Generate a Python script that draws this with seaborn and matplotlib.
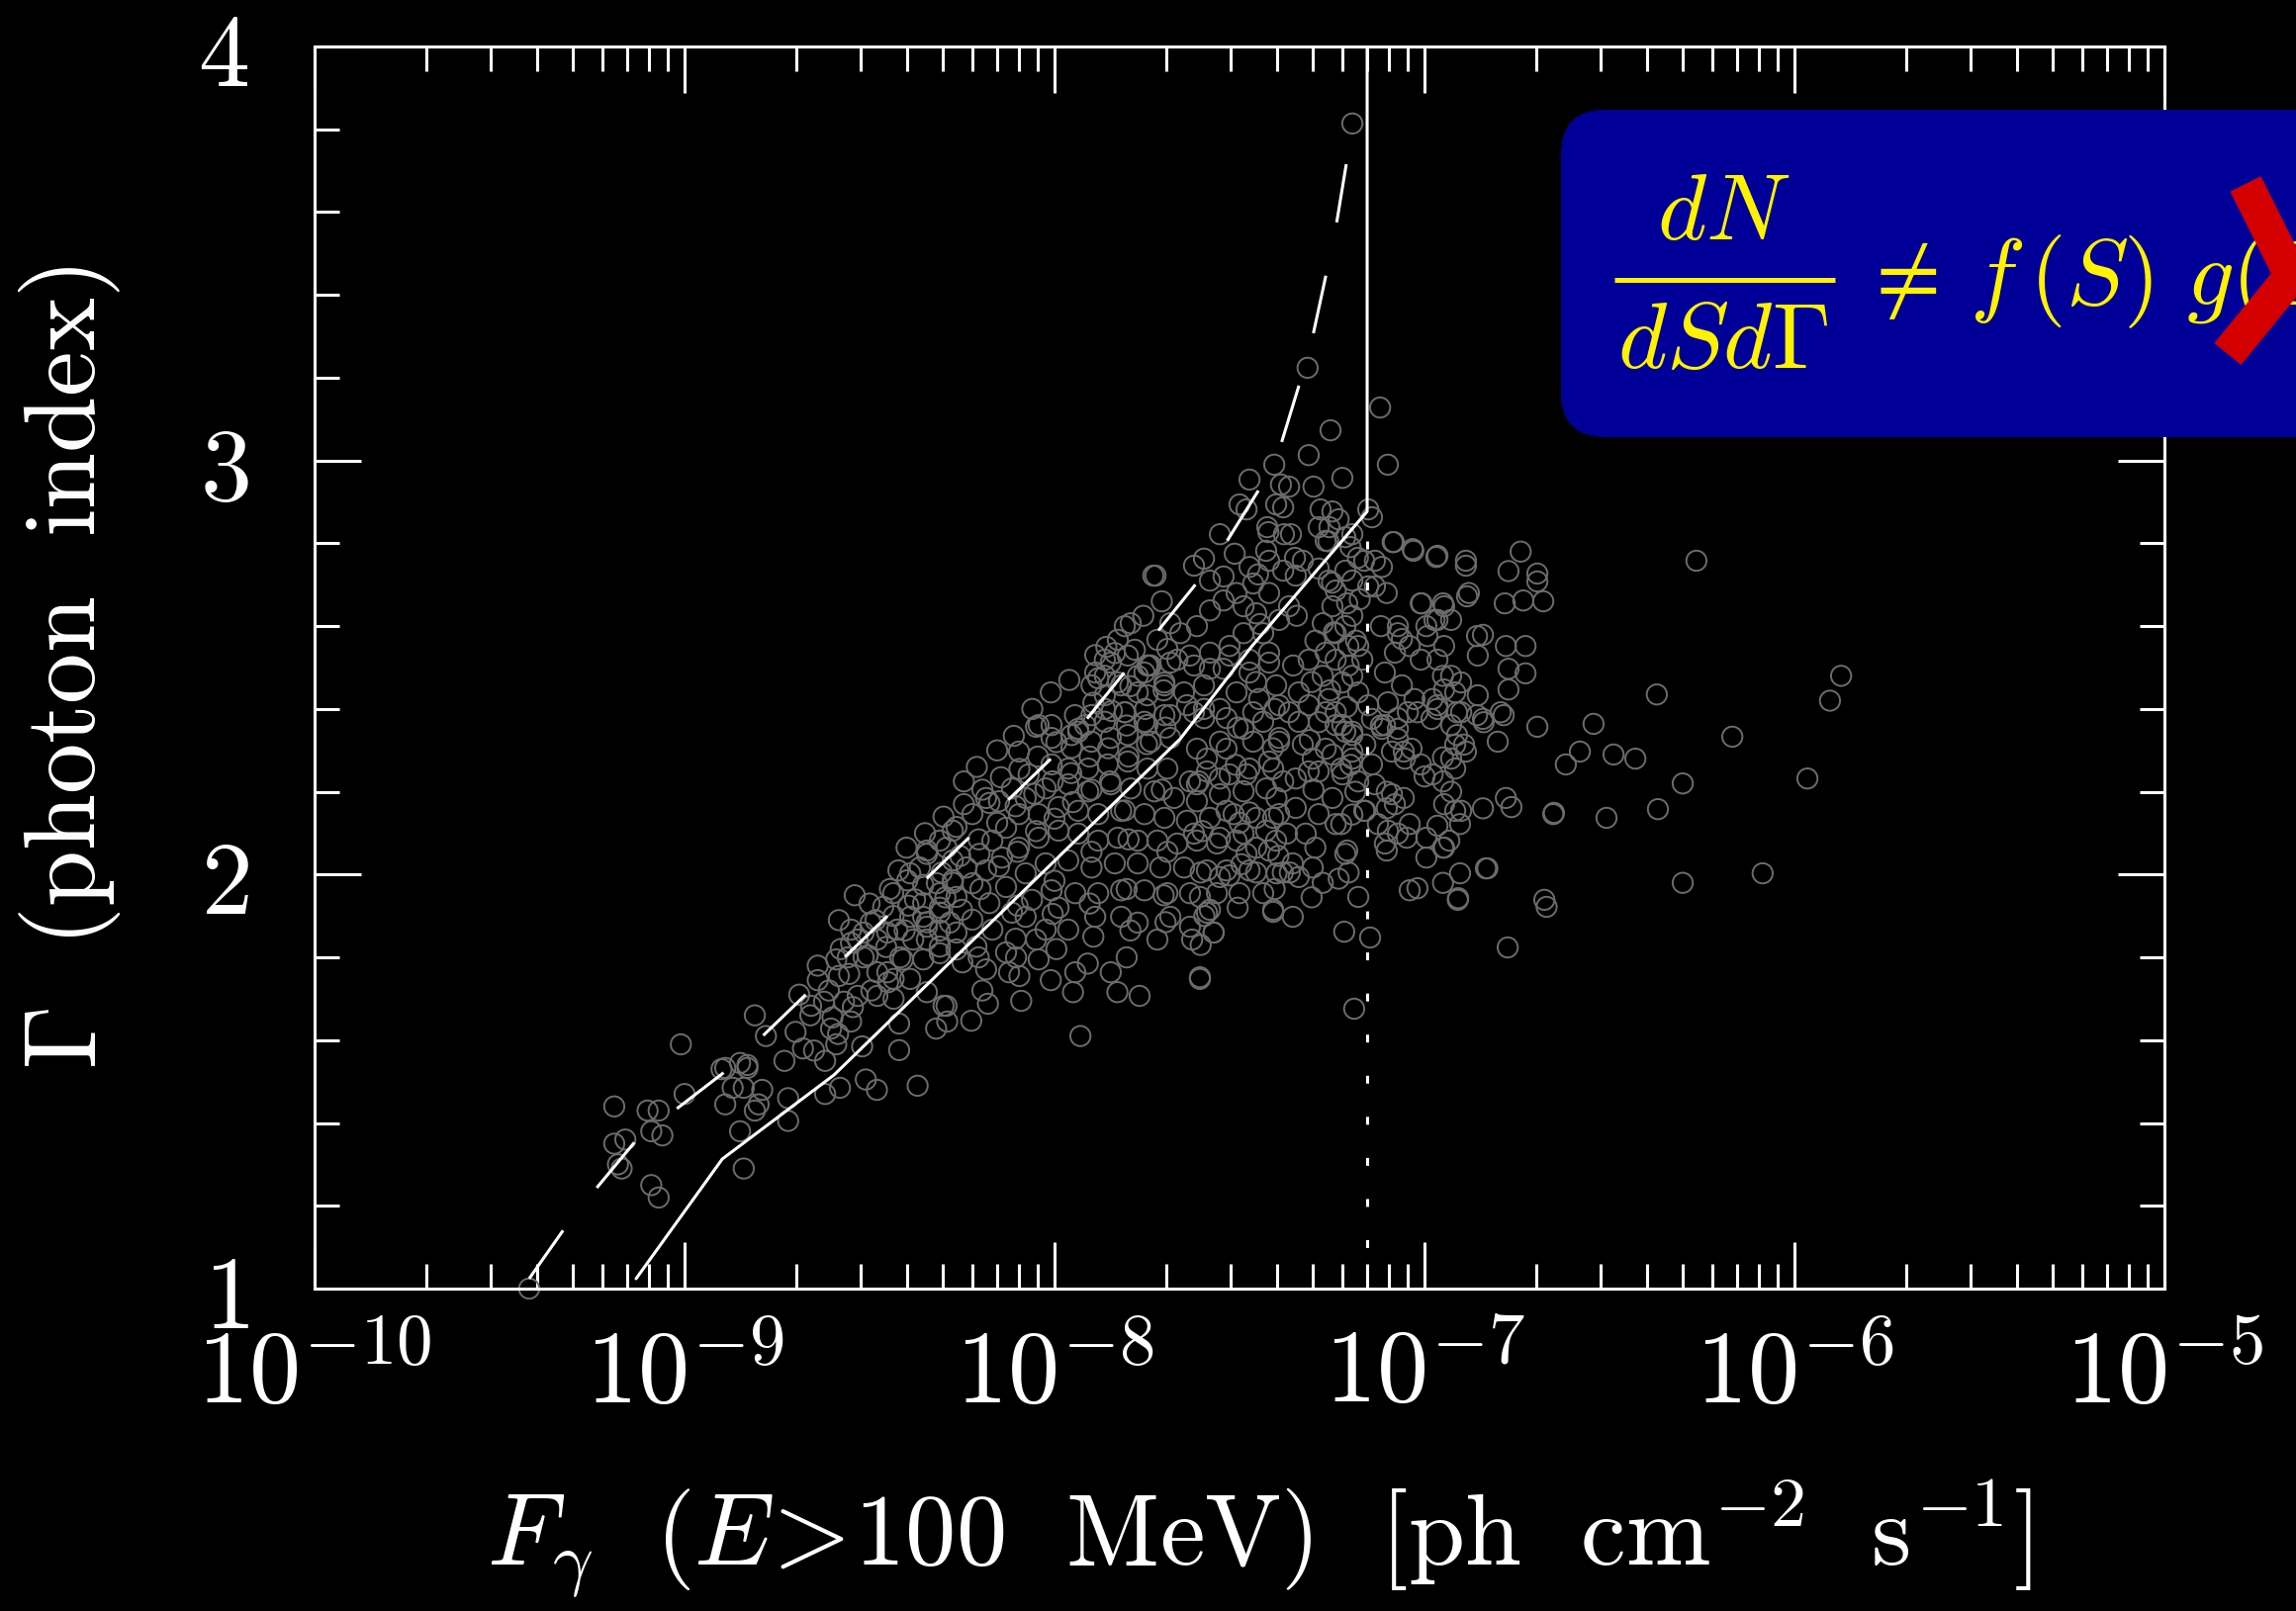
import numpy as np
import pandas as pd
import seaborn as sns
import matplotlib
matplotlib.use("Agg")
import matplotlib.pyplot as plt
from matplotlib.patches import FancyBboxPatch
from matplotlib.lines import Line2D
from matplotlib.transforms import IdentityTransform
from matplotlib.ticker import FuncFormatter, MultipleLocator, LogLocator, NullFormatter, FixedLocator

# ---------------- data: (log10 flux, photon index) ----------------
tail = [
    (-9.42, 1.00), (-9.19, 1.44), (-9.10, 1.43), (-9.07, 1.43), (-9.09, 1.38), (-9.06, 1.37),
    (-9.19, 1.35), (-9.16, 1.36), (-9.18, 1.30), (-9.17, 1.29), (-9.09, 1.25), (-9.07, 1.22),
    (-9.01, 1.59), (-9.00, 1.47), (-8.89, 1.445), (-8.90, 1.53), (-8.85, 1.545), (-8.83, 1.54),
    (-8.84, 1.485), (-8.79, 1.48), (-8.81, 1.43), (-8.85, 1.38), (-8.84, 1.29), (-8.81, 1.66),
    (-8.87, 1.485), (-8.80, 1.445), (-8.83, 1.533), (-8.89, 1.533),
]
lower = [
    (-8.78, 1.61), (-8.73, 1.55), (-8.72, 1.405), (-8.72, 1.46), (-8.68, 1.58), (-8.62, 1.55),
    (-8.585, 1.615), (-8.55, 1.645), (-8.59, 1.59), (-8.58, 1.485), (-8.62, 1.47), (-8.52, 1.585),
    (-8.51, 1.505), (-8.48, 1.48), (-8.42, 1.576), (-8.42, 1.64), (-8.37, 1.49), (-8.32, 1.628),
    (-8.29, 1.645), (-8.30, 1.683), (-8.225, 1.647), (-8.18, 1.688), (-8.09, 1.695), (-7.93, 1.61),
    (-7.95, 1.716), (-7.83, 1.716), (-7.77, 1.707), (-7.19, 1.676),
    (-8.64, 1.78), (-8.583, 1.89), (-8.583, 1.755), (-8.55, 1.867), (-8.516, 1.86), (-8.484, 1.89),
    (-8.452, 1.86), (-8.435, 1.90), (-8.422, 2.01), (-8.345, 2.05), (-8.292, 2.065), (-8.377, 1.94),
    (-8.345, 1.843), (-8.31, 1.81), (-8.292, 1.683), (-8.604, 1.628), (-8.569, 1.693), (-8.532, 1.707),
    (-8.479, 1.707), (-8.435, 1.70), (-8.479, 1.764), (-8.435, 1.748), (-8.39, 1.748), (-8.345, 1.716),
    (-8.516, 1.80), (-8.578, 1.82), (-8.623, 1.693), (-8.658, 1.683), (-8.275, 1.98), (-8.31, 1.92),
    (-8.39, 2.003), (-8.318, 1.979), (-8.275, 2.034), (-8.355, 1.898), (-8.283, 1.884), (-8.265, 1.819),
]
core_edge = [
    (-8.275, 2.106), (-8.176, 2.173), (-8.096, 2.297), (-8.05, 2.357), (-7.936, 2.352), (-7.89, 2.53),
    (-7.864, 2.48), (-7.837, 2.535), (-7.757, 2.488),
    (-8.123, 1.764), (-7.944, 1.764), (-7.848, 1.764), (-7.607, 1.748), (-7.963, 1.867), (-7.89, 1.898),
    (-7.82, 1.898), (-7.775, 1.884), (-7.722, 1.843), (-7.687, 1.898), (-7.634, 1.874), (-7.57, 1.86),
    (-7.58, 1.915), (-7.535, 2.01), (-7.473, 2.01), (-7.409, 1.915), (-7.40, 2.003), (-8.078, 1.898),
    (-8.05, 1.843), (-8.024, 1.867), (-7.989, 1.92), (-8.104, 1.80), (-8.043, 1.795),
]
core_upper = [
    (-7.89, 2.488), (-7.848, 2.512), (-7.802, 2.529), (-7.775, 2.48), (-7.74, 2.505), (-7.703, 2.464),
    (-7.90, 2.457), (-7.864, 2.433), (-7.82, 2.457), (-7.749, 2.433), (-7.687, 2.512), (-7.634, 2.529),
    (-7.58, 2.497), (-7.527, 2.529), (-7.473, 2.488), (-7.42, 2.512), (-7.401, 2.457), (-7.447, 2.424),
    (-7.508, 2.44), (-7.553, 2.40), (-7.596, 2.378), (-7.642, 2.409), (-7.703, 2.385), (-7.757, 2.369),
    (-7.81, 2.392), (-7.864, 2.369), (-7.90, 2.385), (-7.936, 2.345), (-8.043, 2.361), (-8.008, 2.33),
    (-7.954, 2.306), (-7.90, 2.321), (-7.848, 2.33), (-7.802, 2.337), (-7.74, 2.321), (-7.687, 2.33),
]
core_mid = [
    (-7.615, 2.304), (-7.553, 2.321), (-7.489, 2.352), (-7.436, 2.369), (-7.393, 2.321), (-7.42, 2.273),
    (-7.473, 2.256), (-7.527, 2.242), (-7.588, 2.249), (-7.634, 2.225), (-7.695, 2.256), (-7.749, 2.256),
    (-7.802, 2.273), (-7.856, 2.266), (-7.909, 2.256), (-7.963, 2.256), (-8.008, 2.266), (-8.07, 2.242),
    (-8.115, 2.208), (-8.15, 2.177), (-8.185, 2.185), (-8.078, 2.185), (-8.024, 2.208), (-7.963, 2.218),
    (-7.909, 2.201), (-7.848, 2.218), (-7.794, 2.208), (-7.73, 2.201), (-7.677, 2.185), (-7.615, 2.177),
    (-7.553, 2.194), (-7.489, 2.201), (-7.428, 2.208), (-7.382, 2.225),
]
core_lower = [
    (-8.222, 2.146), (-8.265, 2.115), (-8.31, 2.082), (-8.345, 2.058), (-8.364, 2.017), (-8.398, 1.986),
    (-8.436, 1.955), (-8.463, 1.922), (-8.497, 1.884), (-8.532, 1.843), (-8.559, 1.80), (-8.479, 1.843),
    (-8.425, 1.867), (-8.39, 1.898), (-8.355, 1.931), (-8.31, 1.955), (-8.275, 1.986), (-8.238, 2.017),
    (-8.203, 2.05), (-8.168, 2.082), (-8.131, 2.113), (-8.096, 2.146), (-8.043, 2.146), (-7.989, 2.163),
    (-7.936, 2.154), (-7.882, 2.146), (-7.82, 2.154), (-7.757, 2.146), (-7.703, 2.137), (-7.642, 2.13),
    (-7.58, 2.137), (-7.516, 2.146), (-7.455, 2.137), (-7.393, 2.146), (-7.401, 2.082), (-7.455, 2.065),
    (-7.508, 2.082), (-7.561, 2.075), (-7.615, 2.082), (-7.668, 2.075), (-7.722, 2.082), (-7.775, 2.082),
    (-7.829, 2.089), (-7.882, 2.082), (-7.936, 2.099), (-7.989, 2.106), (-8.043, 2.089), (-8.096, 2.065),
    (-8.142, 2.041), (-8.185, 2.01), (-8.222, 1.979), (-8.265, 1.946), (-8.31, 1.908), (-8.345, 1.874),
    (-8.382, 1.843), (-8.417, 1.80), (-8.452, 1.764), (-8.355, 1.795), (-8.31, 1.826), (-8.265, 1.86),
    (-8.222, 1.891), (-8.176, 1.931), (-8.131, 1.97), (-8.078, 2.003), (-8.024, 2.027), (-7.963, 2.034),
    (-7.90, 2.017), (-7.837, 2.027), (-7.775, 2.027), (-7.714, 2.017), (-7.65, 2.017), (-7.588, 2.01),
    (-7.527, 1.998), (-7.436, 1.955), (-7.50, 1.955), (-7.561, 1.955), (-7.634, 1.955), (-7.695, 1.955),
    (-7.757, 1.962), (-7.82, 1.962), (-7.882, 1.955), (-7.944, 1.955), (-8.008, 1.962), (-8.061, 1.939),
    (-8.115, 1.908), (-8.168, 1.867), (-8.211, 1.826), (-8.249, 1.788), (-8.185, 1.771), (-8.131, 1.812),
]
band_fill = [
    (-8.70, 1.62), (-8.69, 1.71), (-8.66, 1.66), (-8.64, 1.745), (-8.65, 1.575), (-8.61, 1.72),
    (-8.60, 1.655), (-8.59, 1.795), (-8.555, 1.76), (-8.545, 1.68), (-8.55, 1.835), (-8.54, 1.95),
    (-8.505, 1.805), (-8.495, 1.72), (-8.50, 1.93), (-8.455, 1.825), (-8.445, 1.965), (-8.45, 1.74),
    (-8.405, 1.865), (-8.395, 1.925), (-8.40, 2.065), (-8.41, 1.795), (-8.355, 1.975), (-8.345, 1.885),
    (-8.35, 2.10), (-8.305, 2.005), (-8.295, 1.945), (-8.30, 2.14), (-8.31, 1.865), (-8.255, 2.045),
    (-8.245, 2.17), (-8.25, 1.915), (-8.245, 2.225), (-8.205, 2.085), (-8.195, 2.205), (-8.20, 1.965),
    (-8.21, 2.26), (-8.155, 2.125), (-8.145, 2.235), (-8.15, 2.02), (-8.155, 2.30), (-8.105, 2.165),
    (-8.095, 2.255), (-8.10, 2.055), (-8.11, 2.335), (-8.055, 2.195), (-8.045, 2.285), (-8.05, 2.105),
    (-8.06, 2.40), (-8.005, 2.225), (-7.995, 2.32), (-8.00, 2.135), (-8.01, 2.44), (-7.955, 2.245),
    (-7.945, 2.385), (-7.95, 2.175), (-7.96, 2.47), (-7.905, 2.285), (-7.895, 2.415), (-7.90, 2.205),
    (-7.855, 2.305), (-7.845, 2.395), (-7.85, 2.225), (-7.86, 2.55), (-7.805, 2.36), (-7.795, 2.455),
    (-7.80, 2.285), (-7.81, 2.60), (-7.755, 2.40), (-7.745, 2.505), (-7.75, 2.315), (-7.76, 2.625),
    (-7.705, 2.445), (-7.695, 2.545), (-7.70, 2.355), (-7.71, 2.66),
]
below_fill = [
    (-8.205, 1.80), (-8.195, 1.72), (-8.105, 1.845), (-8.095, 1.755), (-8.10, 1.925), (-8.005, 1.905),
    (-7.995, 1.82), (-8.00, 1.985), (-8.01, 1.745), (-7.905, 1.93), (-7.895, 1.85), (-7.90, 2.055),
    (-7.91, 1.785), (-7.805, 1.965), (-7.795, 1.865), (-7.80, 2.085), (-7.81, 2.155), (-7.805, 1.80),
    (-7.705, 1.95), (-7.695, 2.055), (-7.70, 1.885), (-7.71, 2.205), (-7.605, 2.005), (-7.595, 1.90),
    (-7.60, 2.105), (-7.61, 2.225), (-7.605, 1.83), (-7.505, 1.92), (-7.495, 2.025), (-7.50, 2.125),
    (-7.51, 2.265), (-7.505, 2.355), (-7.405, 1.965), (-7.395, 2.045), (-7.40, 2.185), (-7.41, 2.305),
    (-7.405, 2.40), (-7.305, 1.945), (-7.295, 2.065), (-7.30, 2.205), (-7.31, 2.325), (-7.305, 2.465),
    (-7.295, 2.565), (-7.205, 2.005), (-7.195, 2.145), (-7.20, 2.265), (-7.21, 2.405), (-7.205, 2.505),
    (-7.195, 2.625),
]
near_limit_fill = [
    (-7.455, 2.465), (-7.445, 2.605), (-7.45, 2.725), (-7.355, 2.505), (-7.345, 2.625), (-7.35, 2.765),
    (-7.255, 2.445), (-7.245, 2.585), (-7.25, 2.705), (-7.26, 2.805), (-7.185, 2.565), (-7.175, 2.665),
    (-7.18, 2.765),
]
bright_core = [
    (-7.58, 2.71), (-7.543, 2.72), (-7.508, 2.68), (-7.463, 2.703), (-7.42, 2.68), (-7.366, 2.648),
    (-7.393, 2.615), (-7.455, 2.631), (-7.489, 2.648), (-7.543, 2.662), (-7.58, 2.638), (-7.615, 2.60),
    (-7.66, 2.583), (-7.687, 2.607), (-7.722, 2.567), (-7.668, 2.519), (-7.623, 2.505), (-7.58, 2.536),
    (-7.527, 2.552), (-7.489, 2.583), (-7.436, 2.583), (-7.42, 2.536), (-7.473, 2.519), (-7.543, 2.497),
    (-7.596, 2.457), (-7.65, 2.44), (-7.703, 2.457), (-7.749, 2.505), (-7.783, 2.543), (-7.829, 2.567),
    (-7.794, 2.607), (-7.864, 2.519), (-7.882, 2.474), (-7.829, 2.464), (-7.775, 2.44), (-7.81, 2.392),
    (-7.864, 2.40), (-7.917, 2.361), (-7.749, 2.361), (-7.687, 2.385), (-7.623, 2.392), (-8.008, 2.361),
    (-7.954, 2.337),
    (-7.249, 2.648), (-7.275, 2.607), (-7.24, 2.583), (-7.214, 2.60), (-7.206, 2.552), (-7.24, 2.519),
    (-7.267, 2.536), (-7.313, 2.519), (-7.275, 2.48), (-7.222, 2.464), (-7.259, 2.424), (-7.313, 2.409),
    (-7.34, 2.44), (-7.366, 2.392), (-7.286, 2.368), (-7.24, 2.361), (-7.195, 2.345),
    (-7.553, 2.822), (-7.422, 2.827), (-7.361, 2.822), (-7.286, 2.839), (-7.267, 2.806), (-7.214, 2.815),
    (-7.20, 2.791), (-7.596, 2.763), (-7.623, 2.746), (-7.727, 2.722), (-7.513, 2.775), (-7.473, 2.743),
    (-7.428, 2.782), (-7.42, 2.758), (-7.382, 2.734), (-7.348, 2.722), (-7.329, 2.758), (-7.286, 2.739),
    (-7.259, 2.71), (-7.24, 2.686), (-7.214, 2.734), (-7.195, 2.71), (-7.50, 2.894), (-7.481, 2.882),
    (-7.401, 2.894), (-7.382, 2.887), (-7.281, 2.882), (-7.249, 2.877), (-7.232, 2.858),
]
right_dense = [
    (-7.596, 2.40), (-7.535, 2.378), (-7.463, 2.392), (-7.393, 2.409), (-7.34, 2.369), (-7.267, 2.392),
    (-7.214, 2.345), (-7.267, 2.304), (-7.329, 2.314), (-7.393, 2.33), (-7.463, 2.321), (-7.535, 2.304),
    (-7.588, 2.28), (-7.615, 2.218), (-7.553, 2.232), (-7.481, 2.242), (-7.409, 2.256), (-7.348, 2.232),
    (-7.286, 2.249), (-7.222, 2.242), (-7.195, 2.28), (-7.24, 2.122), (-7.286, 2.146), (-7.348, 2.161),
    (-7.409, 2.137), (-7.473, 2.15), (-7.535, 2.154), (-7.623, 2.099), (-7.553, 2.089), (-7.489, 2.099),
    (-7.428, 2.106), (-7.372, 2.099), (-7.275, 1.98), (-7.232, 1.99), (-7.34, 1.994), (-7.383, 2.005),
    (-7.455, 2.005), (-7.553, 1.994), (-7.607, 1.946), (-7.588, 1.908), (-7.57, 1.86), (-7.628, 1.843),
    (-7.607, 1.752), (-7.481, 2.05), (-7.42, 2.058), (-7.356, 2.027), (-7.321, 2.099), (-7.302, 2.28),
    (-7.313, 2.249), (-7.249, 2.29), (-7.249, 2.185), (-7.187, 2.20), (-7.16, 2.154), (-7.126, 2.122),
    (-7.107, 2.361), (-7.072, 2.378), (-7.019, 2.392), (-6.981, 2.376), (-6.965, 2.409), (-6.912, 2.392),
    (-6.858, 2.385), (-6.84, 2.368), (-6.786, 2.385), (-7.088, 2.297), (-7.053, 2.28), (-7.035, 2.304),
    (-6.928, 2.28), (-6.893, 2.314), (-6.912, 2.337), (-7.16, 2.314), (-7.195, 2.337), (-7.142, 2.266),
    (-7.24, 2.392), (-7.222, 2.361), (-7.00, 2.237), (-6.928, 2.20), (-6.901, 2.154), (-6.947, 2.17),
    (-6.965, 2.118), (-6.947, 2.065), (-7.048, 2.089), (-7.099, 2.106), (-7.107, 2.075), (-7.08, 2.17),
    (-7.088, 2.194), (-7.214, 2.05), (-7.409, 1.91), (-7.356, 1.898), (-7.179, 1.946), (-7.217, 1.862),
    (-7.147, 1.848),
]
right_sparse = [
    (-6.74, 2.78), (-6.773, 2.733), (-6.695, 2.727), (-6.695, 2.708), (-6.888, 2.758), (-6.965, 2.77),
    (-7.03, 2.782), (-7.083, 2.803), (-6.88, 2.68), (-6.783, 2.655), (-6.733, 2.662), (-6.679, 2.66),
    (-7.01, 2.655), (-6.95, 2.655), (-6.965, 2.615), (-6.995, 2.60), (-6.842, 2.579), (-6.78, 2.552),
    (-6.727, 2.552), (-6.856, 2.529), (-6.727, 2.486), (-6.773, 2.497), (-6.773, 2.447), (-6.95, 2.48),
    (-6.917, 2.44), (-6.978, 2.424), (-6.856, 2.433), (-6.794, 2.392), (-6.842, 2.376), (-6.695, 2.357),
    (-6.802, 2.321), (-6.917, 2.314), (-6.888, 2.297), (-6.95, 2.283), (-6.917, 2.256), (-7.056, 2.297),
    (-7.01, 2.266), (-7.118, 2.36), (-7.072, 2.328), (-7.027, 2.424), (-6.965, 2.40), (-7.01, 2.519),
    (-7.04, 2.552), (-7.118, 2.60), (-7.072, 2.583), (-7.134, 2.696), (-7.102, 2.68), (-7.209, 2.655),
    (-7.163, 2.758), (-7.195, 2.822), (-7.257, 2.839), (-7.38, 2.822), (-7.425, 2.839), (-7.733, 2.722),
    (-6.78, 2.185), (-6.765, 2.163), (-6.917, 2.154), (-6.904, 2.122), (-6.842, 2.16), (-6.95, 2.225),
    (-6.978, 2.242), (-6.995, 2.089), (-6.95, 2.065), (-7.072, 2.099), (-7.04, 2.122), (-7.102, 2.20),
    (-7.134, 2.218), (-7.056, 2.185), (-7.195, 2.297), (-7.225, 2.256), (-7.179, 2.225), (-7.102, 2.16),
    (-7.163, 2.154), (-7.225, 2.122), (-7.209, 2.058), (-7.102, 2.058), (-7.302, 2.017), (-7.364, 2.005),
    (-6.933, 2.082), (-6.904, 2.003), (-6.995, 2.041), (-6.95, 1.98), (-7.04, 1.962), (-6.83, 2.015),
    (-6.91, 1.939), (-7.08, 2.536), (-7.072, 2.60), (-7.061, 2.569), (-7.107, 2.488), (-7.061, 2.457),
    (-7.099, 2.416), (-7.045, 2.392), (-7.072, 2.352), (-7.115, 2.352), (-7.179, 2.552), (-7.168, 2.519),
    (-7.195, 2.48), (-7.179, 2.44), (-7.152, 2.409), (-7.142, 2.376), (-7.008, 2.655), (-6.947, 2.648),
    (-6.973, 2.615), (-6.928, 2.615), (-6.885, 2.672), (-6.858, 2.576), (-6.992, 2.576), (-6.947, 2.552),
    (-6.965, 2.519), (-6.928, 2.48), (-6.901, 2.464), (-6.947, 2.447), (-6.901, 2.392), (-6.928, 2.361),
    (-7.086, 2.803), (-7.032, 2.786), (-6.968, 2.767), (-6.888, 2.746), (-7.134, 2.758), (-7.115, 2.743),
    (-7.152, 2.696),
]
outliers = [
    (-6.265, 2.758), (-5.874, 2.48), (-5.904, 2.42), (-6.372, 2.435), (-6.543, 2.364), (-6.168, 2.333),
    (-6.58, 2.297), (-6.618, 2.266), (-6.489, 2.29), (-6.43, 2.28), (-6.302, 2.22), (-5.965, 2.232),
    (-6.65, 2.149), (-6.508, 2.137), (-6.369, 2.158), (-6.834, 2.015), (-6.302, 1.98), (-6.086, 2.003),
    (-7.019, 1.967), (-6.909, 1.943), (-6.676, 1.939), (-6.67, 1.922), (-6.775, 1.824), (-6.652, 2.146),
]
top_tail = [
    (-7.195, 3.814), (-7.316, 3.224), (-7.12, 3.128), (-7.254, 3.073), (-7.313, 3.013), (-7.222, 2.958),
    (-7.099, 2.99), (-7.30, 2.937), (-7.406, 2.99), (-7.473, 2.954), (-7.388, 2.942), (-7.366, 2.937),
    (-7.152, 2.882), (-7.142, 2.863),
]

# model curves (log10 flux, photon index)
solid_logf = [-9.131, -8.898, -8.596, -7.660, -7.468, -7.155, -7.155]
solid_gamma = [1.024, 1.313, 1.516, 2.328, 2.550, 2.877, 4.0]
dashed_logf = [-9.42, -9.302, -9.128, -8.882, -7.965, -7.567, -7.404, -7.310, -7.243, -7.193]
dashed_gamma = [1.024, 1.174, 1.361, 1.530, 2.318, 2.758, 2.992, 3.267, 3.544, 3.816]
limit_logf = [-7.155, -7.155]
limit_gamma = [1.0, 2.877]

x_ticks_exp = [-10, -9, -8, -7, -6, -5]
y_ticks = [1, 2, 3, 4]

# ---------------- style ----------------
sns.set_theme(style="ticks")
plt.rcParams.update({
    "figure.facecolor": "black", "axes.facecolor": "black", "savefig.facecolor": "black",
    "axes.edgecolor": "white", "text.color": "white", "xtick.color": "white",
    "ytick.color": "white", "axes.labelcolor": "white", "mathtext.fontset": "cm",
    "axes.linewidth": 2.2,
})
plt.rcParams["font.family"] = ["DejaVu Serif"]

W, H = 2321, 1629
fig = plt.figure(figsize=(W / 100, H / 100), dpi=100)
ax = fig.add_axes([318 / W, 1 - 1303 / H, 1870 / W, 1256 / H])
ax.set_xscale("log")

pts = pd.DataFrame(tail + lower + core_edge + core_upper + core_mid + core_lower + band_fill +
                   below_fill + near_limit_fill + bright_core + right_dense + right_sparse +
                   outliers + top_tail, columns=["logf", "gamma"])
pts["flux"] = 10.0 ** pts["logf"]
sns.scatterplot(data=pts, x="flux", y="gamma", ax=ax, s=215, marker="o",
                linewidth=1.4, clip_on=False, legend=False, zorder=2)
coll = ax.collections[-1]
coll.set_facecolor("none")
coll.set_edgecolor("#6c6c6c")
coll.set_linewidth(1.4)

sns.lineplot(x=10.0 ** np.array(solid_logf), y=solid_gamma, sort=False, estimator=None,
             color="white", lw=2.2, ax=ax, zorder=3)
sns.lineplot(x=10.0 ** np.array(dashed_logf), y=dashed_gamma, sort=False, estimator=None,
             color="white", lw=2.2, ax=ax, zorder=3)
ax.lines[-1].set_linestyle((0, (19.5, 18)))
sns.lineplot(x=10.0 ** np.array(limit_logf), y=limit_gamma, sort=False, estimator=None,
             color="white", lw=2.2, ax=ax, zorder=3)
ax.lines[-1].set_linestyle((0, (2.6, 11.0)))

ax.set_xlim(1e-10, 1e-5)
ax.set_ylim(1, 4)
ax.xaxis.set_major_locator(FixedLocator([10.0 ** e for e in x_ticks_exp]))
ax.xaxis.set_minor_locator(LogLocator(base=10, subs=np.arange(2, 10), numticks=100))
ax.xaxis.set_minor_formatter(NullFormatter())
ax.xaxis.set_major_formatter(FuncFormatter(lambda v, p: r"$10^{%d}$" % int(round(np.log10(v)))))
ax.yaxis.set_major_locator(FixedLocator(y_ticks))
ax.yaxis.set_minor_locator(MultipleLocator(0.2))
ax.yaxis.set_major_formatter(FuncFormatter(lambda v, p: r"$%d$" % int(round(v))))
ax.tick_params(which="both", direction="in", top=True, right=True, width=2.2, color="white")
ax.tick_params(which="major", length=34)
ax.tick_params(which="minor", length=18)
ax.tick_params(axis="x", which="major", labelsize=75, pad=26)
ax.tick_params(axis="y", which="major", labelsize=75, pad=48)
for sp in ax.spines.values():
    sp.set_color("white")
    sp.set_linewidth(2.2)
    sp.set_visible(True)

ax.set_xlabel(r"$F_{\gamma}\ \ (E\!>\!100\ \ \mathrm{MeV})\ \ [\mathrm{ph}\ \ \mathrm{cm}^{-2}\ \ \mathrm{s}^{-1}]$",
              fontsize=74, color="white")
ax.xaxis.label.set_verticalalignment("baseline")
ax.xaxis.set_label_coords(0.5107, -0.2229)
ax.set_ylabel(r"$\Gamma\ \ (\mathrm{photon\ \ index})$", fontsize=74, color="white")
ax.yaxis.label.set_verticalalignment("center")
ax.yaxis.set_label_coords(-0.1326, 0.5)

# ---------------- overlay: blue formula box with red cross ----------------
ID = IdentityTransform()
box = FancyBboxPatch((1578, H - 442), 1000, 331, boxstyle="round,pad=0,rounding_size=45",
                     transform=ID, facecolor="#000099", edgecolor="none", zorder=5)
fig.add_artist(box)
yellow = "#FFF200"
fig.text(1742, H - 242, r"$dN$", transform=ID, color=yellow, fontsize=68,
         ha="center", va="baseline", zorder=6)
fig.text(1742, H - 372, r"$dSd\Gamma$", transform=ID, color=yellow, fontsize=68,
         ha="center", va="baseline", zorder=6)
fig.add_artist(Line2D([1632, 1855], [H - 283, H - 283], transform=ID, color=yellow,
                      lw=3.6, solid_capstyle="butt", zorder=6))
fig.text(1880, H - 308, r"$\neq\, f\,(S)\ g(\Gamma)$", transform=ID, color=yellow, fontsize=68,
         ha="left", va="baseline", zorder=6)
for (x0, y0), (x1, y1) in [((2270, 186), (2370, 386)), ((2252, 358), (2370, 213))]:
    fig.add_artist(Line2D([x0, x1], [H - y0, H - y1], transform=ID,
                          color="#D40000", lw=25, solid_capstyle="butt", zorder=7))

fig.savefig("out.png", dpi=100, facecolor="black")
